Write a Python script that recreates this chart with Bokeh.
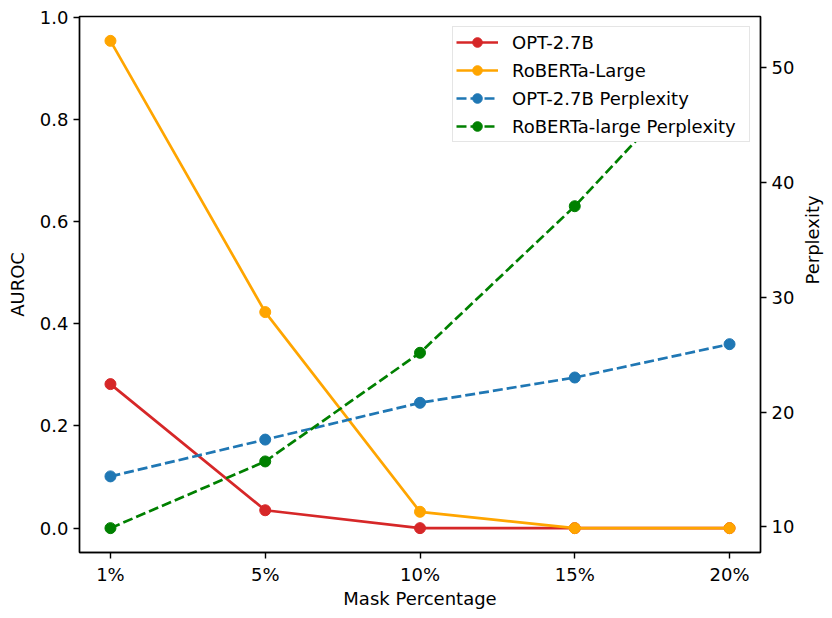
import math
from bokeh.plotting import figure
from bokeh.models import Range1d, LinearAxis, FixedTicker, PrintfTickFormatter, Legend, LegendItem
from bokeh.embed import file_html
from bokeh.resources import INLINE

categories = ["1%", "5%", "10%", "15%", "20%"]
opt_auroc = [0.282, 0.035, 0.0, 0.0, 0.0]
roberta_auroc = [0.954, 0.423, 0.032, 0.0, 0.0]
opt_ppl = [14.4, 17.6, 20.8, 23.0, 25.9]
roberta_ppl = [9.9, 15.7, 25.15, 37.9, 52.3]
left_ticks = [0.0, 0.2, 0.4, 0.6, 0.8, 1.0]
right_ticks = [10, 20, 30, 40, 50]

xs = list(range(len(categories)))
FONT = "DejaVu Sans"
FS = "18px"

p = figure(output_backend="svg", toolbar_location=None,
           x_range=Range1d(-0.2, 4.2), y_range=Range1d(-0.0477, 1.0017),
           min_border_left=79, min_border_right=50, min_border_top=16, min_border_bottom=40)
p.frame_width = 681
p.frame_height = 536
p.extra_y_ranges = {"ppl": Range1d(7.78, 54.4)}
p.xgrid.visible = False
p.ygrid.visible = False
p.outline_line_color = "black"
p.outline_line_width = 1.4
p.outline_line_alpha = 1

RED = "#d62728"
ORANGE = "#ffa500"
BLUE = "#1f77b4"
GREEN = "#008000"
LW = 2.7
MS = 11

r1l = p.line(xs, opt_auroc, color=RED, line_width=LW)
r1c = p.scatter(xs, opt_auroc, color=RED, size=MS)
r2l = p.line(xs, roberta_auroc, color=ORANGE, line_width=LW)
r2c = p.scatter(xs, roberta_auroc, color=ORANGE, size=MS)
r3l = p.line(xs, opt_ppl, color=BLUE, line_width=LW, line_dash="10 4", y_range_name="ppl")
r3c = p.scatter(xs, opt_ppl, color=BLUE, size=MS, y_range_name="ppl")
r4l = p.line(xs, roberta_ppl, color=GREEN, line_width=LW, line_dash="10 4", y_range_name="ppl")
r4c = p.scatter(xs, roberta_ppl, color=GREEN, size=MS, y_range_name="ppl")

right_axis = LinearAxis(y_range_name="ppl", axis_label="Perplexity")
p.add_layout(right_axis, "right")

for ax in [p.xaxis[0], p.yaxis[0], right_axis]:
    ax.axis_line_width = 1.4
    ax.major_tick_line_width = 1.4
    ax.major_tick_out = 6
    ax.major_tick_in = 0
    ax.minor_tick_out = 0
    ax.minor_tick_in = 0
    ax.major_label_text_font = FONT
    ax.major_label_text_font_size = FS
    ax.major_label_text_color = "black"
    ax.axis_label_text_font = FONT
    ax.axis_label_text_font_size = FS
    ax.axis_label_text_font_style = "normal"
    ax.axis_label_text_color = "black"
    ax.major_label_standoff = 5

p.xaxis[0].ticker = FixedTicker(ticks=xs)
p.xaxis[0].major_label_overrides = {i: c for i, c in zip(xs, categories)}
p.xaxis[0].axis_label = "Mask Percentage"
p.xaxis[0].axis_label_standoff = 0
p.xaxis[0].major_label_standoff = 5
p.yaxis[0].ticker = FixedTicker(ticks=left_ticks)
p.yaxis[0].formatter = PrintfTickFormatter(format="%.1f")
p.yaxis[0].axis_label = "AUROC"
p.yaxis[0].axis_label_standoff = 9
right_axis.ticker = FixedTicker(ticks=right_ticks)
right_axis.axis_label_standoff = 15
right_axis.axis_label_orientation = math.pi / 2

legend = Legend(items=[
    LegendItem(label="OPT-2.7B", renderers=[r1l, r1c]),
    LegendItem(label="RoBERTa-Large", renderers=[r2l, r2c]),
    LegendItem(label="OPT-2.7B Perplexity", renderers=[r3l, r3c]),
    LegendItem(label="RoBERTa-large Perplexity", renderers=[r4l, r4c]),
], location="top_right")
legend.label_text_font = FONT
legend.label_text_font_size = FS
legend.label_text_color = "black"
legend.glyph_width = 42
legend.glyph_height = 24
legend.label_height = 24
legend.label_width = 234
legend.spacing = 4
legend.label_standoff = 14
legend.padding = 3
legend.margin = 10
legend.border_line_color = "#cccccc"
legend.border_line_width = 1.4
legend.background_fill_alpha = 1.0
p.add_layout(legend)

open("out.html", "w").write(file_html(p, INLINE))
